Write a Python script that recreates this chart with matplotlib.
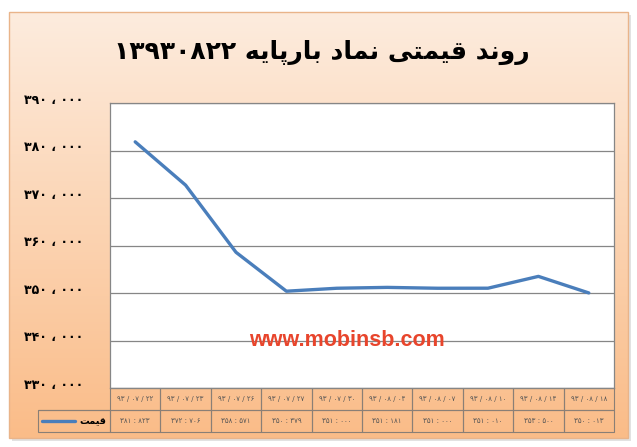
import numpy as np
import matplotlib
matplotlib.use("Agg")
import matplotlib.pyplot as plt
from matplotlib.patches import Rectangle
from matplotlib.ticker import FuncFormatter
import matplotlib.transforms as mtransforms

# ---------------- data ----------------
title_text = "روند قیمتی نماد بارپایه ۱۳۹۳۰۸۲۲"
series_name = "قیمت"
dates = ["۹۳/۰۷/۲۲", "۹۳/۰۷/۲۳", "۹۳/۰۷/۲۶", "۹۳/۰۷/۲۷", "۹۳/۰۷/۳۰",
         "۹۳/۰۸/۰۴", "۹۳/۰۸/۰۷", "۹۳/۰۸/۱۰", "۹۳/۰۸/۱۴", "۹۳/۰۸/۱۸"]
prices = [381823, 372706, 358571, 350379, 351000, 351181, 351000, 351010, 353500, 350013]
y_ticks = [330000, 340000, 350000, 360000, 370000, 380000, 390000]
watermark = "www.mobinsb.com"

# ---------------- simple Persian shaping ----------------
FORMS = {
    'ا': ('\uFE8D', '\uFE8E', None, None),
    'د': ('\uFEA9', '\uFEAA', None, None),
    'ر': ('\uFEAD', '\uFEAE', None, None),
    'و': ('\uFEED', '\uFEEE', None, None),
    'ن': ('\uFEE5', '\uFEE6', '\uFEE7', '\uFEE8'),
    'ق': ('\uFED5', '\uFED6', '\uFED7', '\uFED8'),
    'ی': ('\uFBFC', '\uFBFD', '\uFBFE', '\uFBFF'),
    'م': ('\uFEE1', '\uFEE2', '\uFEE3', '\uFEE4'),
    'ت': ('\uFE95', '\uFE96', '\uFE97', '\uFE98'),
    'ب': ('\uFE8F', '\uFE90', '\uFE91', '\uFE92'),
    'پ': ('\uFB56', '\uFB57', '\uFB58', '\uFB59'),
    'ه': ('\uFEE9', '\uFEEA', '\uFEEB', '\uFEEC'),
}


def shape_word(word):
    out = []
    for i, c in enumerate(word):
        if c not in FORMS:
            out.append(c)
            continue
        iso, fin, ini, med = FORMS[c]
        prev = word[i - 1] if i > 0 else None
        nxt = word[i + 1] if i + 1 < len(word) else None
        jp = prev in FORMS and FORMS[prev][2] is not None
        jn = ini is not None and nxt in FORMS
        if jp and jn:
            out.append(med)
        elif jp:
            out.append(fin)
        elif jn:
            out.append(ini)
        else:
            out.append(iso)
    return ''.join(reversed(out))


def rtl(text):
    words = text.split(' ')
    vis = []
    for w in words:
        if any(c in FORMS for c in w):
            vis.append(shape_word(w))
        else:
            vis.append(w)
    return ' '.join(reversed(vis))


PDIG = str.maketrans("0123456789", "۰۱۲۳۴۵۶۷۸۹")


def pnum(v):
    s = f"{int(v):,}".translate(PDIG)
    return s.replace(",", "،")


plt.rcParams['font.family'] = ['DejaVu Sans']

W, H = 637, 447
fig = plt.figure(figsize=(W / 100, H / 100), dpi=100)
fig.patch.set_facecolor('white')

# ---------------- background card ----------------
bg = fig.add_axes([0, 0, 1, 1], zorder=0)
bg.set_xlim(0, W)
bg.set_ylim(H, 0)
bg.axis('off')
x0, x1, y0, y1 = 9, 628, 12, 438
bg.add_patch(Rectangle((x0 + 3, y0 + 3), x1 - x0, y1 - y0, facecolor='#cfcfcf', edgecolor='none', alpha=0.6))
top = np.array([253, 236, 222]) / 255
bot = np.array([250, 188, 136]) / 255
t = np.linspace(0, 1, 256)[:, None]
grad = (top[None, :] * (1 - t) + bot[None, :] * t)[:, None, :]
bg.imshow(grad, extent=[x0, x1, y1, y0], aspect='auto', interpolation='bilinear', zorder=1)
bg.add_patch(Rectangle((x0, y0), x1 - x0, y1 - y0, facecolor='none', edgecolor='#e9b48a', lw=1.0, zorder=2))

# title
fig.text(322 / W, 1 - 52 / H, rtl(title_text), ha='center', va='center',
         fontsize=18, fontweight='bold', color='black')

# ---------------- plot ----------------
L, R, T, B = 110, 614, 103, 388
ax = fig.add_axes([L / W, 1 - B / H, (R - L) / W, (B - T) / H], zorder=2)
ax.set_facecolor('white')
x = np.arange(len(prices))
line, = ax.plot(x, prices, color='#4a7ebb', lw=2.4, label=rtl(series_name), solid_capstyle='round')
ax.set_xlim(-0.5, len(prices) - 0.5)
ax.set_ylim(y_ticks[0], y_ticks[-1])
ax.set_yticks(y_ticks)
ax.yaxis.set_major_formatter(FuncFormatter(lambda v, p: pnum(v).replace("،", " ، ")))
ax.set_xticks([])
ax.grid(axis='y', color='#868686', lw=0.9)
ax.tick_params(axis='y', length=0, pad=19, labelsize=9)
for lab in ax.get_yticklabels():
    lab.set_fontweight('bold')
    lab.set_transform(lab.get_transform() + mtransforms.ScaledTranslation(0, 3 / 72, fig.dpi_scale_trans))
for s in ax.spines.values():
    s.set_color('#868686')
    s.set_linewidth(0.9)

# watermark
ax.text(0.47, 0.165, watermark, transform=ax.transAxes, ha='center', va='center',
        fontsize=15.5, fontweight='bold', color='#e8452c', family='Liberation Sans', zorder=3)

# ---------------- data table ----------------
lab_w = 72 / 504
cell_text = [[""] + [" / ".join(d.split("/")) for d in dates],
             [""] + [pnum(v).replace("،", " : ") for v in prices]]
tbl = ax.table(cellText=cell_text, cellLoc='center',
               colWidths=[lab_w] + [1 / len(prices)] * len(prices),
               bbox=[-lab_w, -44 / 285, 1 + lab_w, 44 / 285])
tbl.auto_set_font_size(False)
tbl.set_fontsize(5)
for (r, c), cell in tbl.get_celld().items():
    cell.set_facecolor('none')
    cell.set_edgecolor('#8a7f76')
    cell.set_linewidth(0.8)
    cell.get_text().set_color('#555555')
    if r == 0 and c == 0:
        cell.visible_edges = 'B'

leg = ax.legend(handles=[line], loc='center', bbox_to_anchor=(-lab_w / 2, -33 / 285),
                frameon=False, handlelength=3.4, handletextpad=0.5,
                prop={'size': 7, 'weight': 'bold'})

fig.savefig("out.png", dpi=100, facecolor='white')
